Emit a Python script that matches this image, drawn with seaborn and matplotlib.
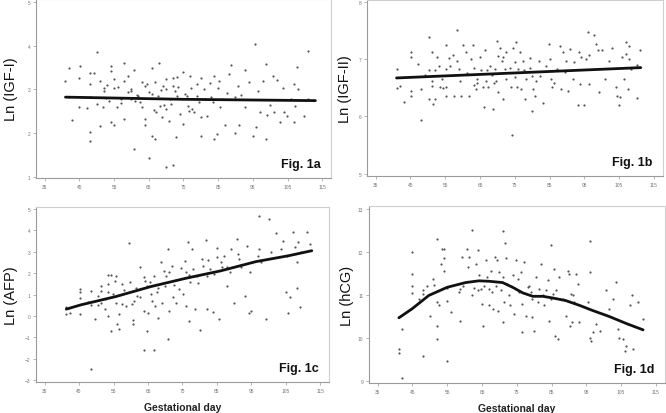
import matplotlib
matplotlib.use("Agg")
import matplotlib.pyplot as plt
import seaborn as sns
import pandas as pd

# -------------------------
# Data
# -------------------------
# Fig. 1a  Ln(IGF-I)
igf1_day = [41.0, 42.0, 41.9, 43.0, 45.1, 44.9, 44.9, 47.1, 48.0, 48.1, 48.1, 48.0, 48.0, 49.1,
            50.0, 50.0, 50.9, 51.0, 51.9, 52.1, 52.2, 52.6, 53.0, 54.0, 54.1, 54.1, 55.1, 55.1,
            55.1, 55.9, 56.9, 58.0, 58.0, 58.0, 58.9, 59.1, 59.8, 59.9, 60.8, 60.8, 61.0, 62.0,
            63.0, 63.0, 63.9, 64.0, 65.1, 64.0, 65.0, 65.8, 65.9, 66.0, 66.9, 66.9, 67.9, 67.8,
            68.1, 68.8, 69.0, 69.9, 70.0, 70.0, 70.1, 70.9, 71.1, 71.9, 71.9, 72.1, 72.9, 73.1,
            73.1, 74.0, 74.8, 75.0, 76.0, 76.2, 76.9, 77.1, 77.9, 78.9, 80.0, 80.0, 80.1, 81.0,
            81.2, 81.9, 83.0, 83.9, 83.9, 84.8, 84.9, 85.1, 86.1, 87.1, 88.0, 88.7, 89.8, 89.9,
            90.7, 90.9, 92.8, 92.8, 94.0, 94.9, 95.7, 95.8, 97.0, 97.9, 98.8, 98.9, 99.1, 100.8,
            101.8, 101.0, 102.9, 103.7, 103.9, 104.9, 105.9, 106.8, 106.8, 107.0, 107.8, 107.9,
            109.7, 110.9, 110.8,
            57.0, 60.0, 62.5, 64.5, 66.5, 68.5, 71.5, 73.5, 75.5, 77.5, 79.5, 82.5, 85.5, 87.5,
            53.5, 56.0, 61.5, 67.0, 69.5, 72.5, 76.5, 79.0, 83.5, 91.5, 96.5, 100.0]
igf1_val = [3.20, 3.49, 2.83, 2.30, 3.54, 3.26, 2.60, 2.58, 3.12, 3.37, 2.83, 2.03, 1.82, 3.38,
            3.85, 2.66, 3.18, 2.15, 2.59, 3.02, 2.95, 2.80, 3.10, 3.54, 3.41, 2.26, 3.24, 3.02,
            2.17, 2.59, 2.78, 3.60, 3.20, 2.32, 3.30, 2.93, 3.01, 2.78, 3.45, 1.63, 2.74, 2.85,
            3.16, 2.59, 3.08, 2.32, 1.42, 2.17, 2.93, 3.48, 1.92, 2.89, 1.86, 3.16, 3.61, 2.85,
            2.62, 2.36, 3.07, 1.21, 3.24, 3.01, 2.55, 2.28, 2.78, 1.26, 3.07, 3.25, 1.91, 3.28,
            2.85, 2.43, 3.39, 2.20, 2.85, 2.62, 3.31, 3.02, 2.47, 2.85, 3.25, 1.92, 2.36, 3.01,
            2.78, 2.39, 2.82, 3.31, 1.86, 1.97, 3.02, 3.20, 2.78, 2.17, 3.35, 3.56, 1.99, 2.82,
            3.08, 2.17, 3.45, 2.59, 3.16, 1.93, 4.03, 2.13, 2.47, 3.20, 3.58, 1.87, 2.41, 3.30,
            3.22, 2.47, 2.24, 3.02, 2.47, 2.38, 2.78, 2.24, 3.12, 2.62, 3.52, 3.01,
            2.39, 3.87, 2.78,
            2.68, 2.95, 2.70, 3.12, 2.52, 2.98, 2.66, 3.05, 2.90, 2.55, 2.70, 3.14, 2.60, 2.92,
            2.72, 3.05, 2.88, 2.48, 2.65, 2.97, 2.50, 3.12, 2.70, 2.88, 2.95, 2.63]
igf1_fit_day = [41.0, 75.0, 113.0]
igf1_fit_val = [2.82, 2.77, 2.74]

# Fig. 1b  Ln(IGF-II)
igf2_day = [41.0, 41.0, 42.1, 43.1, 45.2, 45.2, 45.2, 45.2, 47.1, 48.0, 48.0, 49.1, 50.2, 50.2,
            50.2, 51.2, 51.2, 51.3, 51.4, 52.1, 52.1, 52.6, 53.1, 53.4, 54.0, 54.3, 55.2, 55.2,
            55.3, 55.3, 56.0, 56.4, 57.2, 57.6, 58.3, 58.5, 58.9, 59.1, 59.5, 60.0, 61.0, 61.2,
            61.7, 62.3, 63.1, 63.3, 63.3, 63.9, 64.0, 64.2, 65.0, 65.3, 65.8, 66.1, 66.4, 66.7,
            66.9, 67.4, 67.9, 68.3, 68.8, 69.0, 69.3, 69.6, 70.0, 70.2, 70.2, 70.7, 71.2, 71.7,
            71.7, 72.1, 72.4, 72.6, 73.6, 74.0, 74.2, 74.5, 75.0, 75.0, 75.3, 75.7, 76.0, 76.4,
            76.9, 77.4, 77.6, 77.9, 78.3, 79.3, 79.5, 79.8, 80.0, 80.2, 80.7, 81.2, 82.0, 82.3,
            83.1, 84.0, 84.8, 85.2, 85.5, 85.8, 86.4, 87.1, 88.0, 88.3, 88.8, 89.3, 89.8, 90.2,
            90.9, 91.7, 92.1, 93.1, 93.4, 93.8, 94.0, 95.0, 95.5, 96.0, 96.2, 96.4, 97.9, 98.3,
            99.0, 99.1, 100.0, 101.0, 102.0, 102.9, 104.0, 104.5, 105.0, 105.2, 105.8, 106.4,
            106.9, 107.1, 107.4, 107.7, 107.9, 108.3, 110.0, 110.0, 110.9]
igf2_val = [6.83, 6.49, 6.53, 6.26, 7.12, 7.03, 6.45, 6.35, 6.91, 5.94, 6.48, 6.72, 7.38, 6.80,
            6.30, 7.12, 6.53, 6.62, 6.22, 6.81, 6.30, 7.03, 6.88, 6.51, 6.65, 6.49, 7.24, 6.83,
            6.51, 6.36, 7.01, 6.88, 7.07, 6.36, 7.51, 6.97, 6.83, 6.62, 6.36, 7.24, 7.12, 6.76,
            6.36, 7.00, 7.24, 6.85, 6.55, 6.48, 6.65, 6.59, 7.03, 6.80, 6.52, 6.16, 7.15, 6.62,
            6.80, 6.51, 6.88, 6.72, 6.13, 6.59, 6.83, 6.62, 7.32, 7.06, 6.42, 7.20, 6.97, 7.03,
            6.30, 6.83, 6.66, 7.12, 6.85, 6.52, 5.67, 7.20, 6.94, 6.68, 7.29, 6.52, 6.83, 7.12,
            6.48, 6.97, 6.80, 6.30, 6.65, 7.01, 6.85, 6.70, 6.10, 6.48, 6.36, 6.62, 6.97, 6.71,
            6.24, 6.88, 7.26, 7.00, 6.65, 6.52, 6.59, 6.83, 7.23, 6.48, 7.12, 6.77, 6.97, 6.45,
            7.17, 6.65, 6.95, 6.20, 7.12, 6.56, 7.03, 6.20, 7.00, 7.47, 7.07, 6.56, 7.41, 7.26,
            7.15, 6.42, 7.15, 6.65, 6.97, 7.19, 6.51, 6.36, 6.20, 6.33, 7.03, 6.65,
            7.09, 7.29, 6.48, 7.23, 7.00, 6.83, 6.90, 6.32, 7.15]
igf2_fit_day = [41.0, 111.2]
igf2_fit_val = [6.67, 6.85]

# Fig. 1c  Ln(AFP)
afp_day = [41.3, 41.3, 42.4, 45.3, 45.3, 45.3, 45.3, 47.5, 48.5, 48.5, 49.5, 48.5, 50.5, 50.5,
           51.5, 51.5, 51.5, 52.4, 52.4, 53.4, 53.4, 53.4, 53.4, 54.4, 54.4, 54.9, 55.4, 55.6,
           55.7, 55.9, 56.6, 56.7, 57.4, 57.6, 58.6, 59.5, 59.8, 60.5, 60.6, 60.6, 61.6, 61.8,
           62.6, 62.8, 63.8, 63.8, 63.8, 64.6, 64.8, 65.0, 65.7, 65.9, 66.2, 66.7, 66.8, 67.0,
           67.8, 68.0, 68.8, 69.0, 69.8, 70.2, 70.8, 70.9, 71.0, 71.2, 72.0, 72.2, 73.0, 73.2,
           74.1, 75.1, 75.7, 75.9, 76.1, 76.6, 76.8, 77.1, 77.9, 78.1, 78.5, 79.2, 80.0, 80.7,
           81.0, 81.8, 82.0, 82.2, 83.0, 83.9, 84.9, 85.1, 85.7, 86.1, 86.4, 87.1, 87.9, 88.9,
           89.2, 89.9, 90.9, 91.4, 92.1, 93.1, 93.8, 94.3, 95.0, 96.8, 97.1, 97.3, 97.8, 99.2,
           100.2, 100.7, 102.2, 103.5, 104.2, 105.1, 105.4, 105.6, 106.1, 107.2, 107.6, 108.1,
           108.3, 108.6, 109.1, 109.4, 111.2, 112.1,
           58.0, 61.0, 64.0, 67.5, 69.5, 72.5, 74.5, 77.0, 79.5, 82.5, 84.0, 88.0, 91.0, 94.5]
afp_val = [0.40, 0.09, 0.16, 1.26, 1.10, 0.82, 0.09, 0.66, 1.18, 0.51, -0.15, -2.46, 0.94, 0.51,
           1.41, 1.18, 0.63, 0.32, 0.79, 1.91, 1.49, 1.10, 0.01, 1.91, -0.69, 1.02, 1.65, 0.63,
           1.88, -0.38, 0.09, -0.62, 1.49, 0.55, 0.48, 3.39, 1.60, 0.55, -0.18, -0.38, 1.33, 0.94,
           2.30, 0.87, 1.80, 0.24, -1.58, -0.69, 1.41, 0.16, 1.57, 1.02, 0.71, -1.58, 1.88, 0.48,
           -0.07, 1.33, 2.50, 0.63, 1.41, 1.88, 3.13, -1.08, 0.24, 2.04, 2.35, 0.87, 1.69, 0.63,
           1.26, 1.02, 2.58, 2.04, 0.48, 3.44, -0.23, 1.57, 3.13, 2.19, 0.32, 1.88, -0.65, 2.66,
           2.35, 3.56, 0.32, 1.85, 2.19, 0.20, 3.16, 2.74, -0.15, 2.50, 2.27, 2.82, 1.41, 2.04,
           3.13, 0.63, 3.60, 2.66, 2.27, 0.94, 3.28, 0.16, 0.24, 2.82, 3.13, 4.69, 2.50, -0.15,
           4.53, 2.97, 3.88, 3.13, 3.52, 1.10, 2.82, 0.13, 0.87, 3.91, 3.21, 2.50,
           1.33, 3.44, 0.40, 2.97, 3.94, 3.36,
           1.20, 0.70, 1.65, 1.10, 2.10, 1.45, 2.25, 1.90, 1.55, 2.60, 1.95, 2.30, 2.90, 2.05]
afp_fit_day = [41.3, 45.5, 55.7, 65.7, 75.9, 86.1, 96.3, 105.9, 112.5]
afp_fit_val = [0.32, 0.52, 0.91, 1.37, 1.76, 2.11, 2.54, 2.82, 3.05]

# Fig. 1d  Ln(hCG)
hcg_day = [41.1, 41.1, 42.0, 42.0, 44.9, 44.9, 44.9, 44.9, 47.0, 48.0, 48.0, 48.0, 49.2, 50.0,
           50.9, 51.2, 52.1, 52.1, 52.1, 52.1, 52.6, 53.1, 53.6, 54.0, 54.2, 54.2, 55.0, 55.0,
           55.0, 56.0, 58.4, 58.8, 58.8, 59.3, 59.5, 60.8, 61.1, 61.3, 62.0, 62.2, 62.7, 63.2,
           63.7, 63.9, 64.1, 64.6, 65.1, 65.3, 65.6, 66.1, 66.5, 67.0, 67.0, 67.5, 67.8, 68.2,
           68.8, 68.9, 69.4, 69.7, 69.9, 70.4, 70.9, 71.1, 71.1, 71.3, 71.6, 71.8, 72.3, 72.8,
           73.0, 73.8, 74.2, 74.7, 75.2, 75.7, 76.2, 76.4, 76.6, 77.1, 77.6, 78.1, 78.6, 79.0,
           79.3, 79.5, 80.0, 80.5, 81.0, 81.4, 81.9, 82.4, 82.9, 83.4, 84.1, 84.3, 84.8, 84.8,
           85.3, 85.8, 86.1, 86.4, 86.7, 87.2, 88.2, 89.1, 89.6, 90.1, 90.3, 90.6, 90.9, 91.1,
           91.5, 92.0, 92.5, 93.0, 95.4, 95.9, 96.1, 96.1, 96.3, 96.8, 97.8, 98.8, 100.7, 101.4,
           102.6, 103.4, 104.0, 104.5, 105.5, 106.0, 106.3, 106.9, 107.4, 108.0, 108.4, 109.8,
           111.3]
hcg_val = [9.74, 9.66, 9.08, 10.21, 12.00, 11.50, 11.22, 11.05, 10.91, 11.11, 11.03, 9.59, 11.22,
           10.52, 11.38, 11.24, 12.31, 10.29, 9.98, 10.83, 10.76, 11.71, 12.08, 11.85, 11.57,
           12.08, 9.47, 11.16, 10.85, 10.60, 11.07, 10.40, 11.14, 11.89, 11.22, 12.08, 11.65,
           11.89, 12.51, 10.99, 11.16, 11.73, 11.11, 12.04, 11.46, 11.14, 10.79, 10.29, 11.22,
           11.81, 11.42, 11.14, 10.76, 11.57, 11.07, 10.68, 11.89, 11.22, 11.81, 10.64, 11.53,
           11.11, 11.42, 12.49, 10.37, 10.83, 12.20, 11.85, 11.26, 10.99, 10.76, 11.46, 10.56,
           11.81, 11.38, 11.07, 11.53, 10.13, 10.79, 11.77, 10.52, 11.18, 11.22, 11.07, 10.91,
           10.48, 10.17, 11.42, 10.83, 11.14, 11.73, 10.99, 10.76, 11.11, 11.34, 10.40, 12.16,
           10.91, 11.03, 11.61, 10.05, 11.11, 9.98, 11.42, 10.90, 10.52, 11.57, 11.50, 10.29,
           11.03, 10.37, 10.99, 10.83, 11.50, 11.26, 10.37, 10.83, 11.53, 12.25, 10.01, 9.94,
           10.13, 10.33, 10.17, 11.11, 10.68, 10.91, 11.30, 10.21, 10.01, 9.98, 9.70, 9.82,
           10.33, 10.76, 10.99, 9.74, 10.83, 10.44]
hcg_fit_day = [41.1, 44.9, 49.7, 55.0, 60.3, 64.1, 67.0, 70.9, 73.8, 76.7, 79.6, 82.5, 85.4,
               89.1, 93.0, 96.8, 101.6, 106.4, 111.3]
hcg_fit_val = [10.47, 10.68, 10.99, 11.18, 11.29, 11.33, 11.32, 11.29, 11.18, 11.05, 10.97,
               10.97, 10.93, 10.87, 10.76, 10.64, 10.50, 10.34, 10.19]

x_ticks = [35, 45, 55, 65, 75, 85, 95, 105, 115]

# -------------------------
# Figure
# -------------------------
sns.set_style("white")
plt.rcParams['font.family'] = ['Liberation Sans', 'DejaVu Sans']

fig = plt.figure(figsize=(6.66, 4.14), dpi=100)

panels = [
    # (rect, x, y, fit_x, fit_y, ylabel, tag, ylim, yticks, label_x)
    ([0.054, 0.567, 0.443, 0.433], igf1_day, igf1_val, igf1_fit_day, igf1_fit_val,
     'Ln (IGF-I)', 'Fig. 1a', (0.96, 5.07), [1, 2, 3, 4, 5], -0.060),
    ([0.551, 0.572, 0.444, 0.426], igf2_day, igf2_val, igf2_fit_day, igf2_fit_val,
     'Ln (IGF-II)', 'Fig. 1b', (4.96, 8.03), [5, 6, 7, 8], -0.050),
    ([0.054, 0.075, 0.440, 0.423], afp_day, afp_val, afp_fit_day, afp_fit_val,
     'Ln (AFP)', 'Fig. 1c', (-3.08, 5.1), [-3, -2, -1, 0, 1, 2, 3, 4, 5], -0.060),
    ([0.554, 0.072, 0.444, 0.428], hcg_day, hcg_val, hcg_fit_day, hcg_fit_val,
     'Ln (hCG)', 'Fig. 1d', (8.95, 13.07), [9, 10, 11, 12, 13], -0.052),
]

for i, (rect, xs, ys, fx, fy, ylab, tag, ylim, yticks, lx) in enumerate(panels):
    ax = fig.add_axes(rect)
    df = pd.DataFrame({'day': xs, 'val': ys})
    fit = pd.DataFrame({'day': fx, 'val': fy})
    sns.scatterplot(data=df, x='day', y='val', ax=ax, s=2.5, color='#555555',
                    linewidth=0, marker='o')
    sns.lineplot(data=fit, x='day', y='val', ax=ax, color='#111111', linewidth=2.0)

    ax.set_xlim(32.5, 117.5)
    ax.set_ylim(*ylim)
    ax.set_xticks(x_ticks)
    ax.set_yticks(yticks)
    ax.tick_params(axis='both', labelsize=3.5, colors='#999999', labelcolor='#777777',
                   length=2, width=0.5, pad=2, bottom=True, left=True)

    for side in ['left', 'bottom']:
        ax.spines[side].set_color('#9a9a9a')
        ax.spines[side].set_linewidth(0.8)
    for side in ['top', 'right']:
        ax.spines[side].set_color('#cfcfcf')
        ax.spines[side].set_linewidth(0.8)

    ax.set_ylabel(ylab, fontsize=10.5, color='#111111')
    ax.yaxis.set_label_coords(lx, 0.5)
    if i >= 2:
        ax.set_xlabel('Gestational day', fontsize=7.5, fontweight='bold', color='#222222')
        ax.xaxis.set_label_coords(0.5, -0.112)
    else:
        ax.set_xlabel('')

    ax.text(0.965, 0.08, tag, transform=ax.transAxes, ha='right', va='center',
            fontsize=9, fontweight='bold', color='#111111')

fig.savefig('out.png', dpi=100)
plt.close(fig)
